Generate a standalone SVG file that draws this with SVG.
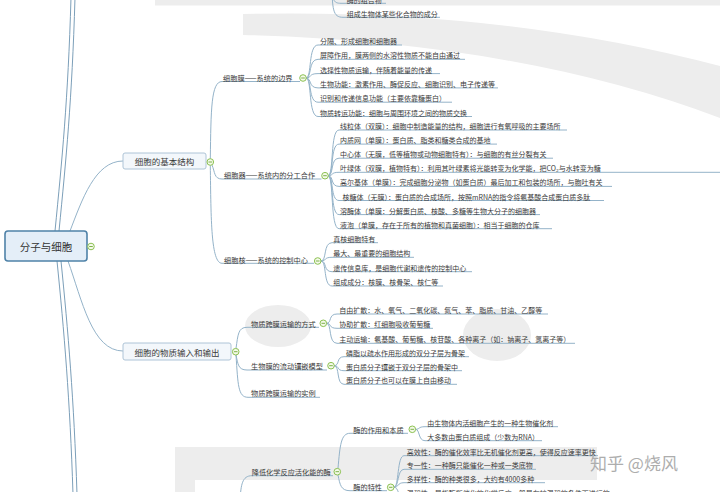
<svg xmlns="http://www.w3.org/2000/svg" xmlns:xlink="http://www.w3.org/1999/xlink" width="720" height="492" viewBox="0 0 720 492">
<style>
.bg{fill:#ededed}
.c{fill:none;stroke:#94b3c9;stroke-width:1}
.cr{fill:none;stroke:#7c9fb9;stroke-width:1}
.t{font-family:"Noto Sans CJK SC","Liberation Sans",sans-serif;font-size:7px;fill:#3a3a3a;dominant-baseline:central}
.t2{font-family:"Noto Sans CJK SC","Liberation Sans",sans-serif;font-size:7.2px;fill:#3a3a3a;dominant-baseline:central}
.l1{font-family:"Noto Sans CJK SC","Liberation Sans",sans-serif;font-size:8.5px;fill:#3a3a3a;dominant-baseline:central;text-anchor:middle}
.root{font-family:"Noto Sans CJK SC","Liberation Sans",sans-serif;font-size:10.5px;fill:#333;dominant-baseline:central;text-anchor:middle}
.b1{fill:#f3f7fb;stroke:#aec4d7;stroke-width:1}
.wm{font-family:"Noto Sans CJK SC",sans-serif;font-size:17px;fill:#adadad}
</style>
<defs>
<g id="tg"><circle r="3.3" fill="#f4fae9" stroke="#8cc152" stroke-width="1"/><line x1="-1.8" y1="0" x2="1.8" y2="0" stroke="#6fa83a" stroke-width="0.9"/></g>
</defs>
<rect width="720" height="492" fill="#fff"/>
<!-- background decoration -->
<g id="background">
<rect class="bg" x="155" y="0" width="565" height="5.5"/>
<path class="bg" d="M243,14 Q 500,8 720,66 L 720,118 Q 520,42 243,35 Z"/>
<ellipse class="bg" cx="278" cy="326" rx="33" ry="21"/>
<ellipse class="bg" cx="497" cy="335" rx="34" ry="26"/>
<rect class="bg" x="175" y="447" width="422" height="33"/>
<rect class="bg" x="175" y="447" width="20" height="45"/>
</g>
<!-- connectors -->
<g id="connectors">
<path class="cr" d="M55,231 C 62,160 68,100 71,-2"/>
<path class="cr" d="M59,231 C 66,160 72,100 75,-2"/>
<path class="cr" d="M57,261 C 64,330 70,400 73,494"/>
<path class="cr" d="M61,261 C 68,330 74,400 77,494"/>
<path class="c" d="M70,231 C 82,200 95,161 123,161"/>
<path class="c" d="M68,261 C 82,300 92,351 123,351"/>
<!-- top partial -->
<path class="c" d="M332,-20 C 332,0 333,3.3 341,3.3 H 386"/>
<path class="c" d="M332,-20 C 332,10 333,17.3 343,17.3 H 440"/>
<!-- 细胞的基本结构 -->
<path class="c" d="M210.3,158.7 C 211,110 211,81.5 222,81.5 H 300"/>
<path class="c" d="M212,165 C 215,172 214,179 222,179 H 321.5"/>
<path class="c" d="M210.3,165.3 C 211,220 211,263.3 222,263.3 H 314"/>
<!-- 细胞膜 children -->
<path class="c" d="M306,78 C 312,78 308,45 318,45 H 402"/>
<path class="c" d="M306,78 C 312,78 308,59.3 318,59.3 H 465"/>
<path class="c" d="M306,78 C 312,78 308,73.6 318,73.6 H 440"/>
<path class="c" d="M306,78 C 312,78 308,87.9 318,87.9 H 498"/>
<path class="c" d="M306,78 C 312,78 308,102.2 318,102.2 H 452"/>
<path class="c" d="M306,78 C 312,78 308,116.5 318,116.5 H 472"/>
<!-- 细胞器 children -->
<path class="c" d="M328,175.7 C 334,175.7 330,130 339,130 H 567"/>
<path class="c" d="M328,175.7 C 334,175.7 330,144.1 339,144.1 H 497"/>
<path class="c" d="M328,175.7 C 334,175.7 330,158.2 339,158.2 H 553"/>
<path class="c" d="M328,175.7 C 334,175.7 330,172.3 339,172.3 H 730"/>
<path class="c" d="M328,175.7 C 334,175.7 330,186.4 339,186.4 H 612"/>
<path class="c" d="M328,175.7 C 334,175.7 330,200.5 339,200.5 H 604"/>
<path class="c" d="M328,175.7 C 334,175.7 330,214.6 339,214.6 H 540"/>
<path class="c" d="M328,175.7 C 334,175.7 330,228.7 339,228.7 H 552"/>
<!-- 细胞核 children -->
<path class="c" d="M321,261 C 327,261 323,242.7 332,242.7 H 378"/>
<path class="c" d="M321,261 C 327,261 323,257.3 332,257.3 H 414"/>
<path class="c" d="M321,261 C 327,261 323,271.7 332,271.7 H 472"/>
<path class="c" d="M321,261 C 327,261 323,286 332,286 H 443"/>
<!-- 细胞的物质输入和输出 -->
<path class="c" d="M236,348.4 C 238,335 238,327.3 247,327.3 H 319"/>
<path class="c" d="M236,355 C 238,364 238,370 247,370 H 327"/>
<path class="c" d="M236,355 C 238,385 238,397.3 248,397.3 H 320"/>
<!-- 物质跨膜运输的方式 children -->
<path class="c" d="M326.5,323.3 C 332,323.3 328,314 337,314 H 548"/>
<path class="c" d="M326.5,323.3 C 332,323.3 328,328.3 337,328.3 H 433"/>
<path class="c" d="M326.5,323.3 C 332,323.3 328,343.3 337,343.3 H 575"/>
<!-- 生物膜 children -->
<path class="c" d="M334,365.7 C 340,365.7 336,356.7 344,356.7 H 469"/>
<path class="c" d="M334,365.7 C 340,365.7 336,370.7 344,370.7 H 462"/>
<path class="c" d="M334,365.7 C 340,365.7 336,384.3 344,384.3 H 457"/>
<!-- 酶 -->
<path class="c" d="M240,500 C 241,485 242,475.7 252,475.7 H 333"/>
<path class="c" d="M338,468.4 C 340,445 341,433.3 350,433.3 H 408"/>
<path class="c" d="M338,475 C 340,485 341,490.7 350,490.7 H 387"/>
<path class="c" d="M415.5,429.3 C 420,429.3 418,426.7 425,426.7 H 558"/>
<path class="c" d="M415.5,429.3 C 420,429.3 418,440.7 425,440.7 H 542"/>
<path class="c" d="M394,487.3 C 399,487.3 397,455.7 404,455.7 H 598"/>
<path class="c" d="M394,487.3 C 399,487.3 397,469.3 404,469.3 H 536"/>
<path class="c" d="M394,487.3 C 399,487.3 397,482.7 404,482.7 H 545"/>
<path class="c" d="M394,487.3 C 399,487.3 397,496.5 404,496.5 H 730"/>
</g>
<!-- nodes -->
<g id="root">
<rect x="5" y="231" width="82" height="30" rx="3" fill="#e4eef8" stroke="#4f82a8" stroke-width="1.6"/>
<text class="root" x="46" y="246">分子与细胞</text>
<use href="#tg" x="91" y="246.5"/>
</g>
<g id="partial-top">
<text class="t" x="346.7" y="-0.5">酶的组合物</text>
<text class="t" x="346.7" y="13.5">组成生物体某些化合物的成分</text>
</g>
<g id="n-jiben">
<rect class="b1" x="123" y="153" width="83" height="16" rx="2"/>
<text class="l1" x="164.5" y="161">细胞的基本结构</text>
<use href="#tg" x="210.3" y="162"/>
</g>
<g id="n-xibaomo">
<text class="t2" x="223" y="78">细胞膜——系统的边界</text>
<use href="#tg" x="303" y="78"/>
</g>
<g id="n-xibaomo-items">
<text class="t" x="320" y="41">分隔、形成细胞和细胞器</text>
<text class="t" x="320" y="55.3">屏障作用，膜两侧的水溶性物质不能自由通过</text>
<text class="t" x="320" y="69.6">选择性物质运输，伴随着能量的传递</text>
<text class="t" x="320" y="83.9">生物功能：激素作用、酶促反应、细胞识别、电子传递等</text>
<text class="t" x="320" y="98.2">识别和传递信息功能（主要依靠糖蛋白）</text>
<text class="t" x="320" y="112.5">物质转运功能：细胞与周围环境之间的物质交换</text>
</g>
<g id="n-xibaoqi">
<text class="t2" x="224" y="175.3">细胞器——系统内的分工合作</text>
<use href="#tg" x="325" y="175.7"/>
</g>
<g id="n-xibaoqi-items">
<text class="t" x="340" y="126">线粒体（双膜）：细胞中制造能量的结构，细胞进行有氧呼吸的主要场所</text>
<text class="t" x="340" y="140.1">内质网（单膜）：蛋白质、脂类和糖类合成的基地</text>
<text class="t" x="340" y="154.2">中心体（无膜，低等植物或动物细胞特有）：与细胞的有丝分裂有关</text>
<text class="t" x="340" y="168.3">叶绿体（双膜，植物特有）：利用其叶绿素将光能转变为化学能，把CO₂与水转变为糖</text>
<text class="t" x="340" y="182.4">高尔基体（单膜）：完成细胞分泌物（如蛋白质）最后加工和包装的场所，与胞吐有关</text>
<text class="t" x="342.5" y="196.5">核糖体（无膜）：蛋白质的合成场所，按照mRNA的指令将氨基酸合成蛋白质多肽</text>
<text class="t" x="340" y="210.6">溶酶体（单膜：分解蛋白质、核酸、多糖等生物大分子的细胞器</text>
<text class="t" x="340" y="224.7">液泡（单膜，存在于所有的植物和真菌细胞）：相当于细胞的仓库</text>
</g>
<g id="n-xibaohe">
<text class="t2" x="224" y="259.8">细胞核——系统的控制中心</text>
<use href="#tg" x="317.7" y="261"/>
</g>
<g id="n-xibaohe-items">
<text class="t" x="333.3" y="238.7">真核细胞特有</text>
<text class="t" x="333.3" y="253.3">最大、最重要的细胞结构</text>
<text class="t" x="333.3" y="267.7">遗传信息库，是细胞代谢和遗传的控制中心</text>
<text class="t" x="333.3" y="282">组成成分：核膜、核骨架、核仁等</text>
</g>
<g id="n-shuru">
<rect class="b1" x="123" y="343" width="108" height="17" rx="2"/>
<text class="l1" x="177" y="351.5">细胞的物质输入和输出</text>
<use href="#tg" x="235.7" y="351.7"/>
</g>
<g id="n-fangshi">
<text class="t2" x="251" y="323.5">物质跨膜运输的方式</text>
<use href="#tg" x="323.3" y="323.3"/>
</g>
<g id="n-fangshi-items">
<text class="t" x="339.3" y="310">自由扩散：水、氧气、二氧化碳、氮气、苯、脂质、甘油、乙醇等</text>
<text class="t" x="339.3" y="324.3">协助扩散：红细胞吸收葡萄糖</text>
<text class="t" x="339.3" y="339.3">主动运输：氨基酸、葡萄糖、核苷酸、各种离子（如：钠离子、氯离子等）</text>
</g>
<g id="n-moxing">
<text class="t2" x="251" y="366">生物膜的流动镶嵌模型</text>
<use href="#tg" x="331" y="365.7"/>
</g>
<g id="n-moxing-items">
<text class="t" x="346" y="352.7">磷脂以疏水作用形成的双分子层为骨架</text>
<text class="t" x="346" y="366.7">蛋白质分子镶嵌于双分子层的骨架中</text>
<text class="t" x="346" y="380.3">蛋白质分子也可以在膜上自由移动</text>
</g>
<g id="n-shili">
<text class="t2" x="251" y="393.3">物质跨膜运输的实例</text>
</g>
<g id="n-mei">
<text class="t2" x="251.7" y="471.8">降低化学反应活化能的酶</text>
<use href="#tg" x="337.3" y="471.7"/>
</g>
<g id="n-zuoyong">
<text class="t2" x="353.3" y="429.5">酶的作用和本质</text>
<use href="#tg" x="412.3" y="429.3"/>
</g>
<g id="n-zuoyong-items">
<text class="t" x="427.3" y="422.7">由生物体内活细胞产生的一种生物催化剂</text>
<text class="t" x="427.3" y="436.7">大多数由蛋白质组成（少数为RNA）</text>
</g>
<g id="n-texing">
<text class="t2" x="353.3" y="487">酶的特性</text>
<use href="#tg" x="390.7" y="487.3"/>
</g>
<g id="n-texing-items">
<text class="t" x="406.7" y="451.7">高效性：酶的催化效率比无机催化剂更高，使得反应速率更快</text>
<text class="t" x="406.7" y="465.3">专一性：一种酶只能催化一种或一类底物</text>
<text class="t" x="406.7" y="478.7">多样性：酶的种类很多，大约有4000多种</text>
<text class="t" x="406.7" y="492.5">温和性：是指酶所催化的化学反应一般是在较温和的条件下进行的</text>
</g>
<g id="watermark">
<text class="wm" x="590" y="470">知乎 @烧风</text>
</g>
</svg>
